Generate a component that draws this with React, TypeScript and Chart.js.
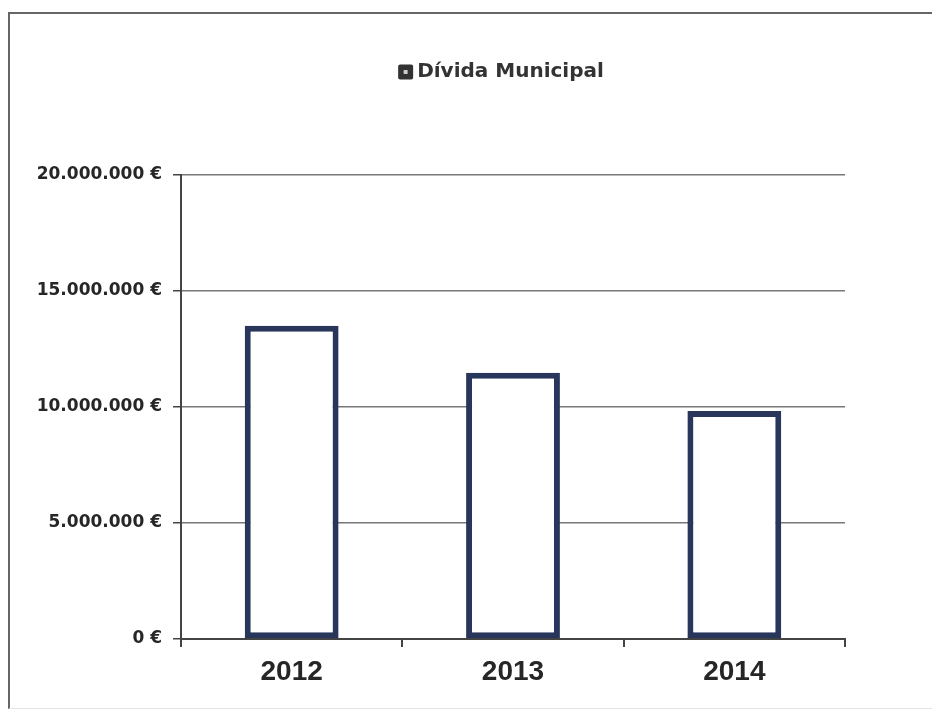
import React, { useEffect, useRef } from "react";
import { Chart, registerables } from "chart.js";

Chart.register(...registerables);

const categories = ["2012", "2013", "2014"];
const seriesLabel = "Dívida Municipal";
const debtValues = [13500000, 11480000, 9830000];
const yTickLabels = ["0 €", "5.000.000 €", "10.000.000 €", "15.000.000 €", "20.000.000 €"];

const legendPlugin = {
  id: "customLegend",
  afterDraw(chart: any) {
    const ctx = chart.ctx;
    const label = chart.data.datasets[0].label as string;
    ctx.save();
    ctx.font = "bold 20px 'DejaVu Sans'";
    const tw = ctx.measureText(label).width;
    const box = 15;
    const gap = 4;
    const total = box + gap + tw;
    const cx = 501;
    const x0 = cx - total / 2;
    const cy = 72;
    ctx.fillStyle = "#333333";
    ctx.beginPath();
    (ctx as any).roundRect(x0, cy - box / 2, box, box, 2);
    ctx.fill();
    ctx.fillStyle = "#cccccc";
    ctx.fillRect(x0 + 5.5, cy - 2, 4, 4);
    ctx.fillStyle = "#333333";
    ctx.textBaseline = "middle";
    ctx.textAlign = "left";
    ctx.fillText(label, x0 + box + gap, cy);
    ctx.restore();
  },
};

export default function App() {
  const ref = useRef<HTMLCanvasElement>(null);
  useEffect(() => {
    if (!ref.current) return;
    const chart = new Chart(ref.current, {
      type: "bar",
      data: {
        labels: categories,
        datasets: [
          {
            label: seriesLabel,
            data: debtValues,
            backgroundColor: "#ffffff",
            borderColor: "#27365a",
            borderWidth: 6,
            borderSkipped: false,
            barPercentage: 0.8,
            categoryPercentage: 0.53,
          },
        ],
      },
      plugins: [legendPlugin],
      options: {
        animation: false,
        responsive: false,
        maintainAspectRatio: false,
        layout: { padding: { top: 175, left: 0, right: 87, bottom: 0 } },
        plugins: {
          legend: { display: false },
          tooltip: { enabled: false },
        },
        scales: {
          x: {
            offset: true,
            afterFit: (s: any) => {
              s.height = 71;
            },
            grid: {
              offset: true,
              display: true,
              drawOnChartArea: true,
              color: (c: any) => (c.index === 3 ? "#555555" : "rgba(0,0,0,0)"),
              lineWidth: 2,
              tickColor: "#444444",
              tickLength: 8,
            },
            border: { display: true, color: "#444444", width: 2 },
            ticks: {
              color: "#262626",
              padding: 8,
              font: { family: "'Liberation Sans'", size: 28, weight: "bold" },
            },
          },
          y: {
            min: 0,
            max: 20000000,
            afterFit: (s: any) => {
              s.width = 181;
            },
            ticks: {
              stepSize: 5000000,
              color: "#262626",
              padding: 11,
              font: { family: "'DejaVu Sans'", size: 17, weight: "bold" },
              callback: (_v: any, i: number) => yTickLabels[i],
            },
            grid: {
              color: "#777777",
              lineWidth: 1.5,
              tickColor: "#444444",
              tickLength: 8,
            },
            border: { display: true, color: "#444444", width: 2 },
          },
        },
      },
    });
    return () => chart.destroy();
  }, []);
  return (
    <div style={{ position: "absolute", left: 0, top: 0, width: 932, height: 710, background: "#fff", overflow: "hidden" }}>
      <div
        style={{
          position: "absolute",
          left: 8,
          top: 12,
          width: 1000,
          height: 694,
          borderLeft: "2px solid #666",
          borderTop: "2px solid #666",
          borderBottom: "1px solid #e4e4e4",
        }}
      />
      <canvas ref={ref} width={932} height={710} style={{ position: "absolute", left: 0, top: 0 }} />
    </div>
  );
}
